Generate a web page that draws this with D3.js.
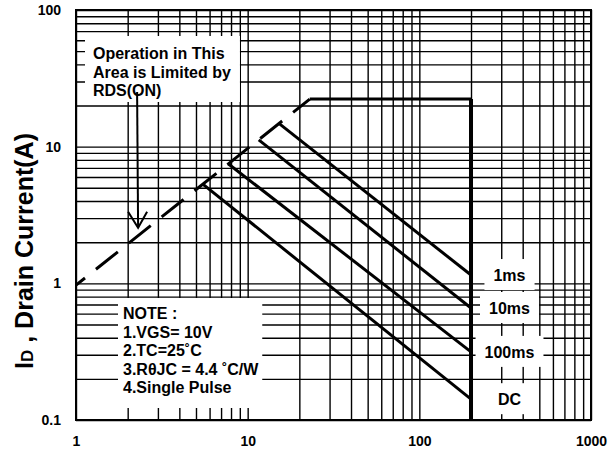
<!DOCTYPE html>
<html>
<head>
<meta charset="utf-8">
<script src="https://cdn.jsdelivr.net/npm/d3@7"></script>
<style>
  body { margin: 0; background: #fff; }
  svg { display: block; font-family: Arial, "Liberation Sans", sans-serif; font-weight: bold; }
</style>
</head>
<body>
<div id="app"></div>
<script>
// values (V, A)
const xTicks = [1, 10, 100, 1000];
const yTicks = [0.1, 1, 10, 100];
const yTickLabels = ["0.1", "1", "10", "100"];
const rdsLimit = [[1, 0.97], [23, 22.3]];
const currentLimit = [[23, 22.3], [200, 22.3], [200, 0.1]];
const pulseNames = ["1ms", "10ms", "100ms", "DC"];
const pulseStart = [[15.2, 14.8], [11.6, 11.2], [7.7, 7.5], [5.5, 5.3]];
const pulseEndV = 200;
const pulseEndI = [1.15, 0.66, 0.315, 0.142];
const labelV = 335;
const noteLines = ["NOTE :", "1.VGS= 10V", "2.TC=25\u02DAC", "3.R\u03B8JC = 4.4 \u02DAC/W", "4.Single Pulse"];
const rdsLines = ["Operation in This", "Area is Limited by", "RDS(ON)"];
const arrowTip = [2.3, 2.55];

const W = 611, H = 453;
const pLeft = 76, pRight = 591, pTop = 10, pBottom = 420;

const svg = d3.select("#app").append("svg").attr("width", W).attr("height", H);

const x = d3.scaleLog().domain([1, 1000]).range([pLeft, pRight]);
const y = d3.scaleLog().domain([0.1, 100]).range([pBottom, pTop]);

// grid at every 1..9 of each decade
const gridX = [], gridY = [];
[1, 10, 100].forEach(d => { for (let k = 1; k < 10; k++) gridX.push(k * d); });
gridX.push(1000);
[0.1, 1, 10].forEach(d => { for (let k = 1; k < 10; k++) gridY.push(+(k * d).toPrecision(3)); });
gridY.push(100);

svg.append("g")
    .attr("transform", `translate(0,${pBottom})`)
    .call(d3.axisBottom(x).tickValues(gridX).tickSize(-(pBottom - pTop)).tickFormat(""))
    .call(g => g.select(".domain").remove())
    .selectAll("line").attr("stroke", "#000").attr("stroke-width", 1.4);

svg.append("g")
    .attr("transform", `translate(${pLeft},0)`)
    .call(d3.axisLeft(y).tickValues(gridY).tickSize(-(pRight - pLeft)).tickFormat(""))
    .call(g => g.select(".domain").remove())
    .selectAll("line").attr("stroke", "#000").attr("stroke-width", 1.4);

// tick labels
svg.append("g")
    .attr("transform", `translate(0,${pBottom})`)
    .call(d3.axisBottom(x).tickValues(xTicks).tickSize(0).tickPadding(16).tickFormat(d3.format("d")))
    .call(g => g.select(".domain").remove())
    .selectAll("text").attr("fill", "#000").style("font-size", "14px").style("font-weight", "bold").style("font-family", "Arial");

svg.append("g")
    .attr("transform", `translate(${pLeft},0)`)
    .call(d3.axisLeft(y).tickValues(yTicks).tickSize(0).tickPadding(15).tickFormat((d, i) => yTickLabels[i]))
    .call(g => g.select(".domain").remove())
    .selectAll("text").attr("fill", "#000").style("font-size", "14px").style("font-weight", "bold").style("font-family", "Arial");

// white boxed text blocks
function textBlock(lines, tx, ty, pad) {
  const g = svg.append("g");
  const bg = g.append("rect").attr("fill", "#fff");
  const t = g.append("text").attr("font-size", 16).attr("fill", "#000");
  lines.forEach((s, i) => t.append("tspan").attr("x", tx).attr("y", ty + i * 18.5).text(s));
  const b = t.node().getBBox();
  bg.attr("x", b.x - pad[3]).attr("y", b.y - pad[0])
    .attr("width", b.width + pad[1] + pad[3]).attr("height", b.height + pad[0] + pad[2]);
  return g;
}

textBlock(rdsLines, pLeft + 17, 59, [9, 9, 3, 8]);
textBlock(noteLines, pLeft + 47, 319, [7, 3, 12, 5]);

// curve labels with white boxes
pulseNames.forEach((name, i) => {
  const g = svg.append("g");
  const bg = g.append("rect").attr("fill", "#fff");
  const t = g.append("text").attr("font-size", 16).attr("fill", "#000")
      .attr("text-anchor", "middle")
      .attr("x", x(labelV)).attr("y", y(pulseEndI[i]) + 6).text(name);
  const b = t.node().getBBox();
  bg.attr("x", b.x - 9).attr("y", b.y - 8).attr("width", b.width + 18).attr("height", b.height + 14);
});

const line = d3.line().x(d => x(d[0])).y(d => y(d[1]));

svg.append("path").datum(rdsLimit).attr("d", line)
    .attr("fill", "none").attr("stroke", "#000").attr("stroke-width", 3)
    .attr("stroke-dasharray", "28,14").attr("stroke-dashoffset", 16.5);

svg.append("path").datum(currentLimit.slice(0, 2)).attr("d", line)
    .attr("fill", "none").attr("stroke", "#000").attr("stroke-width", 3);
svg.append("path").datum(currentLimit.slice(1)).attr("d", line)
    .attr("fill", "none").attr("stroke", "#000").attr("stroke-width", 4);

pulseNames.forEach((name, i) => {
  svg.append("path").datum([pulseStart[i], [pulseEndV, pulseEndI[i]]]).attr("d", line)
      .attr("fill", "none").attr("stroke", "#000").attr("stroke-width", 3);
});

// arrow from the RDS(ON) note to the limit line
const ax = x(arrowTip[0]), ay = y(arrowTip[1]);
svg.append("line").attr("x1", ax - 1).attr("y1", 92).attr("x2", ax).attr("y2", ay)
    .attr("stroke", "#000").attr("stroke-width", 2);
svg.append("path").attr("d", `M${ax - 10},${ay - 16}L${ax},${ay}L${ax + 9},${ay - 16}`)
    .attr("fill", "none").attr("stroke", "#000").attr("stroke-width", 2);

// frame
svg.append("rect").attr("x", pLeft).attr("y", pTop).attr("width", pRight - pLeft).attr("height", pBottom - pTop)
    .attr("fill", "none").attr("stroke", "#000").attr("stroke-width", 2);

// y title
const title = svg.append("text")
    .attr("transform", `translate(33,251) rotate(-90)`)
    .attr("text-anchor", "middle").attr("font-size", 25).attr("fill", "#000");
title.append("tspan").text("I");
title.append("tspan").attr("font-size", 17).text("D");
title.append("tspan").text(" , Drain Current(A)");
</script>
</body>
</html>
